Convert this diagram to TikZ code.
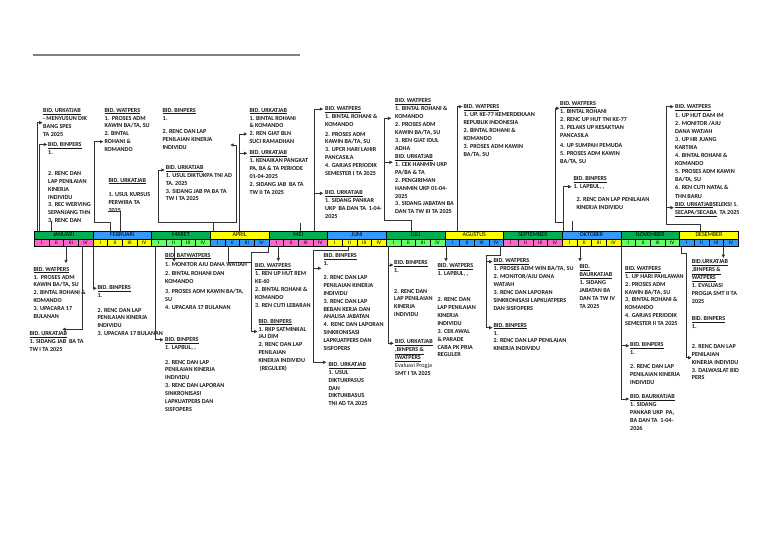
\documentclass[tikz,border=0pt]{standalone}
\usepackage{fontspec}
\setmainfont{Carlito}
\usetikzlibrary{arrows.meta}
\definecolor{mgreen}{RGB}{0,176,80}
\definecolor{lgreen}{RGB}{102,255,102}
\definecolor{mblue}{RGB}{51,153,255}
\definecolor{mpink}{RGB}{255,102,204}
\definecolor{myellow}{RGB}{255,255,0}
\newcommand\myul[1]{\underline{#1}}
\tikzset{
  blk/.style={anchor=north west, inner sep=0pt, align=left, text=black!90,
    font=\fontsize{6.1}{7.85}\selectfont\bfseries},
  blkw/.style={blk, font=\fontsize{6.1}{8.1}\selectfont\bfseries},
  conn/.style={line width=0.9pt, draw=black!80},
  arr/.style={conn, -{Latex[length=3.6pt,width=3.6pt]}},
  mcell/.style={draw=black, line width=0.5pt, anchor=north west, inner sep=0pt,
    minimum width=58.667pt, minimum height=7.5pt, font=\fontsize{6}{6}\selectfont},
  wcell/.style={draw=black, line width=0.5pt, anchor=north west, inner sep=0pt,
    minimum width=14.667pt, minimum height=7.5pt, font=\fontsize{5.4}{5.4}\selectfont},
}
\begin{document}
\begin{tikzpicture}[x=1pt,y=-1pt]
\useasboundingbox (0,0) rectangle (768,544);
\fill[white] (0,0) rectangle (768,544);

% top rule
\coordinate (tl1) at (33,55);
\coordinate (tl2) at (300,55);
\draw[line width=1.3pt, draw=black!50] (tl1) -- (tl2);

% timeline bar
\foreach \i/\nm/\mc/\wc in {0/JANUARI/mgreen/mpink,1/FEBRUARI/mblue/myellow,2/MARET/mgreen/lgreen,
  3/APRIL/myellow/mblue,4/MEI/mgreen/mpink,5/JUNI/mblue/myellow,6/JULI/mgreen/lgreen,
  7/AGUSTUS/myellow/mblue,8/SEPTEMBER/mgreen/mpink,9/OKTOBER/mblue/myellow,
  10/NOVEMBER/mgreen/lgreen,11/DESEMBER/myellow/mblue}{
  \node[mcell, fill=\mc] (m\i) at ({34+\i*58.667},231) {\nm};
  \foreach \j/\r in {0/I,1/II,2/III,3/IV}{
    \node[wcell, fill=\wc] (w\i-\j) at ({34+\i*58.667+\j*14.667},238.5) {\r};
  }
}

% ---------- top blocks ----------
\node[blk] (A) at (43,108.7) {\myul{BID. URKATJAB}\\- MENYUSUN DIK\\BANG SPES\\TA 2025};
\node[blk] (B) at (48,142.3) {\myul{BID. BINPERS}\\1.\\[13.3pt]2. RENC DAN\\LAP PENILAIAN\\KINERJA\\INDIVIDU\\3. REC WERVING\\SEPANJANG THN\\3. RENC DAN};
\node[blk] (C) at (104.3,108) {\myul{BID. WATPERS}\\1.\ \ PROSES ADM\\KAWIN BA/TA, SU\\2. BINTAL\\ROHANI \&\\KOMANDO};
\node[blk] (D) at (108.3,178) {\myul{BID. URKATJAB}\\[6.4pt]1. USUL KURSUS\\PERWIRA TA\\2025};
\node[blk] (E) at (162.3,108) {\myul{BID. BINPERS}\\1.\\[5.8pt]2. RENC DAN LAP\\PENILAIAN KINERJA\\INDIVIDU};
\node[blk] (F) at (165.7,165.3) {\myul{BID. URKATJAB}\\1. USUL DIKTUKPA TNI AD\\TA. 2025\\3. SIDANG JAB PA BA TA\\TW I TA 2025};
\node[blk] (G1) at (249.3,108) {\myul{BID. URKATJAB}\\1. BINTAL ROHANI\\\& KOMANDO\\2. REN GIAT BLN\\SUCI RAMADHAN};
\node[blk] (G2) at (249.3,150.7) {\myul{BID. URKATJAB}\\1. KENAIKAN PANGKAT\\PA, BA \& TA PERIODE\\01-04-2025\\2. SIDANG JAB\ \ BA TA\\TW II TA 2025};
\node[blk] (H1) at (325,106.3) {\myul{BID. WATPERS}\\1. BINTAL ROHANI \&\\KOMANDO\\[2pt]2. PROSES ADM\\KAWIN BA/TA, SU\\3. UPCR HARI LAHIR\\PANCASILA\\4. GARJAS PERIODIK\\SEMESTER I TA 2025};
\node[blk] (H2) at (325,190.3) {\myul{BID. URKATJAB}\\1. SIDANG PANKAR\\UKP\ \ BA DAN TA\ \ 1-04-\\2025};
\node[blk] (I1) at (395,98.7) {\myul{BID. WATPERS}\\1. BINTAL ROHANI \&\\KOMANDO\\2. PROSES ADM\\KAWIN BA/TA, SU\\3. REN GIAT IDUL\\ADHA};
\node[blk] (I2) at (395,154.7) {\myul{BID. URKATJAB}\\1. CEK HANMIN UKP\\PA/BA \& TA\\2. PENGIRIMAN\\HANMIN UKP 01-04-\\2025\\3. SIDANG JABATAN BA\\DAN TA TW III TA 2025};
\node[blk] (J) at (463.3,104.7) {\myul{BID. WATPERS}\\1. UP. KE-77 KEMERDEKAAN\\REPUBLIK INDONESIA\\2. BINTAL ROHANI \&\\KOMANDO\\3. PROSES ADM KAWIN\\BA/TA, SU};
\node[blkw] (K1) at (560,101.3) {\myul{BID. WATPERS}\\1. BINTAL ROHANI\\2. RENC UP HUT TNI KE-77\\3. PELAKS UP KESAKTIAN\\PANCASILA\\[1pt]4. UP SUMPAH PEMUDA\\5. PROSES ADM KAWIN\\BA/TA, SU};
\node[blk] (K2) at (573.3,176.3) {\myul{BID. BINPERS}\\1. LAPBUL, ,\\[5pt]\hspace*{3pt}2. RENC DAN LAP PENILAIAN\\\hspace*{3pt}KINERJA INDIVIDU};
\node[blkw] (L) at (675,104.7) {\myul{BID. WATPERS}\\1. UP HUT DAM IM\\2. MONITOR /AJU\\DANA WATJAH\\3. UP HR JUANG\\KARTIKA\\4. BINTAL ROHANI \&\\KOMANDO\\5. PROSES ADM KAWIN\\BA/TA, SU\\6. REN CUTI NATAL \&\\THN BARU\\\myul{BID. URKATJAB}SELEKSI 1.\\\myul{SECAPA/SECABA}\ \ TA 2025};

% ---------- bottom blocks ----------
\node[blk] (M1) at (33.3,267) {\myul{BID. WATPERS}\\1.\ \ PROSES ADM\\KAWIN BA/TA, SU\\2. BINTAL ROHANI \&\\KOMANDO\\3. UPACARA 17\\BULANAN};
\node[blk] (M2) at (29.3,331.3) {\myul{BID. URKATJAB}\\1. SIDANG JAB\ \ BA TA\\TW I TA 2025};
\node[blk] (N) at (97.3,285.7) {\myul{BID. BINPERS}\\1.\\[6.4pt]2. RENC DAN LAP\\PENILAIAN KINERJA\\INDIVIDU\\3. UPACARA 17 BULANAN};
\node[blk] (O1) at (165,253) {\myul{BID. BATWATPERS}\\[1pt]1. MONITOR AJU DANA WATJAH\\[1.5pt]2. BINTAL ROHANI DAN\\KOMANDO\\[2.8pt]3. PROSES ADM KAWIN BA/TA,\\SU\\4. UPACARA 17 BULANAN};
\node[blk] (O2) at (165,337.3) {\myul{BID. BINPERS}\\1. LAPBUL, ,\\[6.8pt]2. RENC DAN LAP\\PENILAIAN KINERJA\\INDIVIDU\\3. RENC DAN LAPORAN\\SINKRONISASI\\LAPKUATPERS DAN\\SISFOPERS};
\node[blk] (P1) at (255,263.7) {\myul{BID. WATPERS}\\1. REN UP HUT REM\\KE-60\\2. BINTAL ROHANI \&\\KOMANDO\\3. REN CUTI LEBARAN};
\node[blk] (P2) at (258.3,319) {\myul{BID. BINPERS}\\1. RKP SATMINKAL\\JAJ DIM\\2. RENC DAN LAP\\PENILAIAN\\KINERJA INDIVIDU\\\ (REGULER)};
\node[blk] (Q1) at (323.3,253.7) {\myul{BID. BINPERS}\\1.\\[6pt]2. RENC DAN LAP\\PENILAIAN KINERJA\\INDIVIDU\\3. RENC DAN LAP\\BEBAN KERJA DAN\\ANALISA JABATAN\\4.\ \ RENC DAN LAPORAN\\SINKRONISASI\\LAPKUATPERS DAN\\SISFOPERS};
\node[blk] (Q2) at (328.3,362.3) {\myul{BID. URKATJAB}\\1. USUL\\DIKTUKPASUS\\DAN\\DIKTUKBASUS\\TNI AD TA 2025};
\node[blk] (R1) at (394,260.3) {\myul{BID. BINPERS}\\1.\\[12.9pt]2. RENC DAN\\LAP PENILAIAN\\KINERJA\\INDIVIDU};
\node[blk] (R2) at (395,339.7) {\myul{BID. URKATJAB}\\\myul{,BINPERS \&}\\\myul{IWATPERS}\\{\mdseries Evaluasi Progja}\\SMT I TA 2025};
\node[blk] (S) at (437.3,263.7) {\myul{BID. WATPERS}\\1. LAPBUL, ,\\[18.3pt]2. RENC DAN\\LAP PENILAIAN\\KINERJA\\INDIVIDU\\3. CEK AWAL\\\& PARADE\\CABA PK PRIA\\REGULER};
\node[blk] (T1) at (493.3,258.7) {\myul{BID. WATPERS}\\1. PROSES ADM WIN BA/TA, SU\\2. MONITOR/AJU DANA\\WATJAH\\3. RENC DAN LAPORAN\\SINKRONISASI LAPKUATPERS\\DAN SISFOPERS};
\node[blk] (T2) at (493.3,323) {\myul{BID. BINPERS}\\1.\\2. RENC DAN LAP PENILAIAN\\KINERJA INDIVIDU};
\node[blk] (U) at (579.3,264.7) {\myul{BID.}\\\myul{BAURKATJAB}\\1. SIDANG\\JABATAN BA\\DAN TA TW IV\\TA 2025};
\node[blk] (V1) at (625,266.3) {\myul{BID. WATPERS}\\1. UP HARI PAHLAWAN\\2. PROSES ADM\\KAWIN BA/TA, SU\\3. BINTAL ROHANI \&\\KOMANDO\\4. GARJAS PERIODIK\\SEMESTER II TA 2025};
\node[blk] (V2) at (630,342.3) {\myul{BID. BINPERS}\\1.\\[6.6pt]2. RENC DAN LAP\\PENILAIAN KINERJA\\INDIVIDU};
\node[blk] (V3) at (630,394.7) {\myul{BID. BAURKATJAB}\\1. SIDANG\\PANKAR UKP\ \ PA,\\BA DAN TA\ \ 1-04-\\2026};
\node[blk] (W1) at (691.7,259.7) {\myul{BID.URKATJAB}\\\myul{,BINPERS \&}\\\myul{WATPERS}\\1. EVALUASI\\PROGJA SMT II TA\\2025};
\node[blk] (W2) at (691.7,316.3) {\myul{BID. BINPERS}\\1.\\[12.3pt]2. RENC DAN LAP\\PENILAIAN\\KINERJA INDIVIDU\\3. DALWASLAT BID\\PERS};

% ---------- connector points ----------
\coordinate (a0) at (37,231);      \coordinate (a1) at (42.8,122.7);
\coordinate (b0) at (39.5,231);    \coordinate (b1) at (47.5,144.5);
\coordinate (bs0) at (51,221);     \coordinate (bs1) at (51,231);
\coordinate (c0) at (110,231);     \coordinate (c1) at (110,222);  \coordinate (c2) at (94.3,141.7); \coordinate (c3) at (103.6,141.7);
\coordinate (d0) at (120,231);     \coordinate (d1) at (107.5,211.5);
\coordinate (ef0) at (213,231);    \coordinate (ef1) at (213,222);
\coordinate (f0) at (158.3,170);   \coordinate (f1) at (165,170);
\coordinate (e0) at (236.7,145);   \coordinate (e1) at (230,145);
\coordinate (g0) at (239.3,231);   \coordinate (g1) at (247.5,134);  \coordinate (g2) at (239.3,153.3); \coordinate (g3) at (247.5,153.3);
\coordinate (h0) at (314.3,231);   \coordinate (h1) at (323.5,109);  \coordinate (h2) at (314.3,193.3); \coordinate (h3) at (323.5,193.3);
\coordinate (hs0) at (300,223);    \coordinate (hs1) at (300,231);
\coordinate (i0) at (411.7,231);   \coordinate (i1) at (411.7,220);  \coordinate (i2) at (384,118.3); \coordinate (i3) at (391.5,118.3);
\coordinate (i4) at (384,162.3);   \coordinate (i5) at (393,162.3);
\coordinate (j0) at (457.3,231);   \coordinate (j1) at (462.5,106.7);
\coordinate (k0) at (563.3,231);   \coordinate (k1) at (571.8,186.7); \coordinate (k2) at (563.3,222); \coordinate (k3) at (555,108.3); \coordinate (k4) at (559.8,108.3);
\coordinate (ks0) at (572,221);    \coordinate (ks1) at (572,231);
\coordinate (l0) at (700,231);     \coordinate (l1) at (700,224);  \coordinate (l2) at (666.7,106.7); \coordinate (l3) at (674,106.7);
\coordinate (l4) at (666.7,207.7); \coordinate (l5) at (674,207.7);
% bottom
\coordinate (m0) at (66,246);      \coordinate (m1) at (66,263.5);
\coordinate (mm0) at (82,246);     \coordinate (mm1) at (62,329.3);
\coordinate (n0) at (93.3,246);    \coordinate (n1) at (97,288.3);
\coordinate (o0) at (174,246);     \coordinate (o1) at (174,262);
\coordinate (oo0) at (155,246);    \coordinate (oo1) at (163.8,339.8);
\coordinate (ap0) at (228.3,246);  \coordinate (ap1) at (251.7,262);
\coordinate (pp0) at (268.3,246);  \coordinate (pp1) at (268.3,252); \coordinate (pp2) at (251.7,331.5); \coordinate (pp3) at (257.8,331.5);
\coordinate (p0) at (278.3,246);   \coordinate (p1) at (278.3,261.5);
\coordinate (q0) at (348,246);     \coordinate (q1) at (348,250);  \coordinate (q2) at (313.3,362.3); \coordinate (q3) at (326.5,362.3);
\coordinate (q4) at (313.3,268.3); \coordinate (q5) at (321.5,268.3);
\coordinate (r0) at (388.3,246);   \coordinate (r1) at (394,343.3);  \coordinate (r2) at (388.3,265); \coordinate (r3) at (393.8,265);
\coordinate (s0) at (446,246);     \coordinate (s1) at (446,261.7);
\coordinate (t0) at (500,246);     \coordinate (t1) at (500,255);  \coordinate (t2) at (486.7,327.7); \coordinate (t3) at (492.8,327.7);
\coordinate (t4) at (486.7,261.7); \coordinate (t5) at (492.8,261.7);
\coordinate (u0) at (580,246);     \coordinate (u1) at (580,261.7);
\coordinate (v0) at (621.7,246);   \coordinate (v1) at (629.5,399);  \coordinate (v2) at (621.7,345.7); \coordinate (v3) at (629.5,345.7);
\coordinate (w0) at (723.3,246);   \coordinate (w1) at (723.3,258.3);
\coordinate (ww0) at (681.7,246);  \coordinate (ww1) at (681.7,253); \coordinate (ww2) at (686,357.7); \coordinate (ww3) at (691.8,357.7);

% ---------- connectors: top ----------
\draw[arr] (a0) |- (a1);
\draw[arr] (b0) |- (b1);
\draw[conn] (bs0) -- (bs1);
\draw[arr] (c0) -- (c1) -| (c2) -- (c3);
\draw[conn] (d0) |- (d1);
\draw[conn] (ef0) -- (ef1);
\draw[arr] (ef1) -| (f0) -- (f1);
\draw[arr] (ef1) -| (e0) -- (e1);
\draw[arr] (g0) |- (g1);
\draw[arr] (g2) -- (g3);
\draw[arr] (h0) |- (h1);
\draw[arr] (h2) -- (h3);
\draw[conn] (hs0) -- (hs1);
\draw[arr] (i0) -- (i1) -| (i2) -- (i3);
\draw[arr] (i4) -- (i5);
\draw[arr] (j0) |- (j1);
\draw[arr] (k0) |- (k1);
\draw[arr] (k2) -| (k3) -- (k4);
\draw[conn] (ks0) -- (ks1);
\draw[arr] (l0) -- (l1) -| (l2) -- (l3);
\draw[arr] (l4) -- (l5);

% ---------- connectors: bottom ----------
\draw[arr] (m0) -- (m1);
\draw[arr] (mm0) |- (mm1);
\draw[arr] (n0) |- (n1);
\draw[arr] (o0) -- (o1);
\draw[arr] (oo0) |- (oo1);
\draw[conn] (ap0) |- (ap1);
\draw[arr] (pp0) -- (pp1) -| (pp2) -- (pp3);
\draw[arr] (p0) -- (p1);
\draw[arr] (q0) -- (q1) -| (q2) -- (q3);
\draw[arr] (q4) -- (q5);
\draw[arr] (r0) |- (r1);
\draw[arr] (r2) -- (r3);
\draw[arr] (s0) -- (s1);
\draw[arr] (t0) -- (t1) -| (t2) -- (t3);
\draw[arr] (t4) -- (t5);
\draw[arr] (u0) -- (u1);
\draw[arr] (v0) |- (v1);
\draw[arr] (v2) -- (v3);
\draw[arr] (w0) -- (w1);
\draw[arr] (ww0) -- (ww1) -| (ww2) -- (ww3);
\end{tikzpicture}
\end{document}
